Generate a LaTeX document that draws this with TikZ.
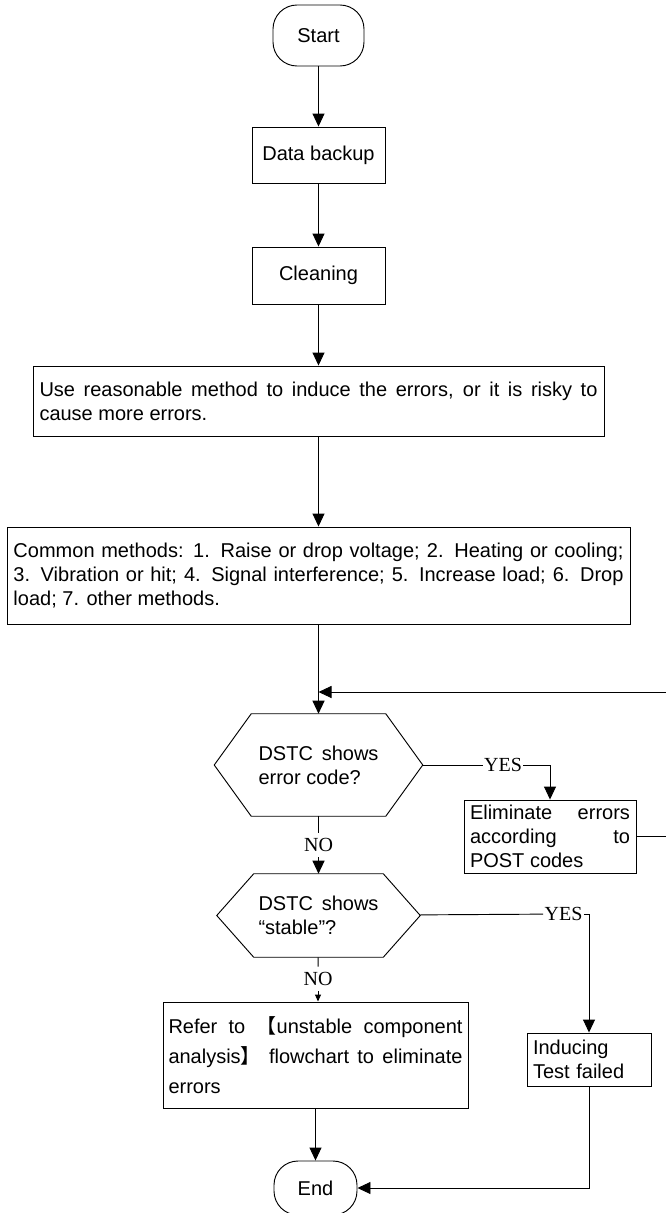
\documentclass[tikz,border=0pt]{standalone}
\usepackage{fontspec}
\setmainfont{Liberation Sans}
\newfontfamily\answerfont{Liberation Serif}
\newfontfamily\cjk{Noto Sans CJK SC}
\usetikzlibrary{arrows.meta}
\tolerance=9999
\tikzset{
    flowline/.style={line width=0.7pt},
    flowarrow/.style={flowline, -{Triangle[length=9.75pt, width=9pt]}},
    smallarrow/.style={flowline, -{Triangle[length=5.25pt, width=4.5pt]}},
    termbox/.style={draw, flowline, rounded corners=18pt, inner sep=0pt,
        font=\fontsize{15}{18}\selectfont},
    procbox/.style={draw, flowline, inner ysep=0pt, align=justify,
        font=\fontsize{15}{18}\selectfont},
    decbox/.style={inner sep=0pt, text width=90pt, align=justify,
        font=\fontsize{15}{18}\selectfont}, % hexagon is drawn from its anchors
    answer/.style={inner xsep=1pt, inner ysep=4pt, fill=white,
        font=\answerfont\fontsize{15}{18}\selectfont},
}
\begin{document}
\begin{tikzpicture}[x=0.75pt, y=-0.75pt]
    \useasboundingbox (0, 0) rectangle (666, 1213);
    \clip (0, 0) rectangle (666, 1213);
    \node[termbox, minimum width=68.25pt, minimum height=45.75pt] (start)
        at (318.5, 35.5) {Start};
    \node[procbox, align=center, minimum width=99.75pt, minimum height=42pt]
        (backup) at (318.5, 155) {Data backup};
    \node[procbox, align=center, minimum width=99.75pt, minimum height=42.75pt]
        (cleaning) at (318.5, 275.5) {Cleaning};
    \node[procbox, text width=418.5pt, inner xsep=4.875pt, minimum height=52.5pt]
        (induce) at (318.5, 401) {Use reasonable method to induce the errors,
        or it is risky to\linebreak cause more errors.};
    \node[procbox, text width=457.5pt, inner xsep=4.875pt, minimum height=72.75pt]
        (methods) at (318.5, 575.5) {Common methods: 1. Raise or drop voltage;
        2. Heating or cooling;\linebreak 3. Vibration or hit; 4. Signal
        interference; 5. Increase load; 6. Drop\linebreak load; 7. other methods.};
    \coordinate (join) at (318.5, 692);
    \node[decbox, minimum width=156pt, minimum height=76.5pt] (errcode)
        at (318.5, 765) {DSTC shows\linebreak error code?};
    \node[answer] (yesa) at (503, 765) {YES};
    \node[procbox, text width=120pt, inner xsep=4.5pt, minimum height=54.75pt]
        (post) at (550, 836.5) {Eliminate errors\linebreak according
        to\linebreak POST codes};
    \node[answer] (noa) at (318.5, 845) {NO};
    \node[decbox, minimum width=152.25pt, minimum height=62.25pt] (stable)
        at (318.5, 915.5) {DSTC shows\linebreak “stable”?};
    \node[answer] (yesb) at (563.5, 914) {YES};
    \node[answer] (nob) at (318, 979) {NO};
    \node[procbox, text width=220.5pt, inner xsep=4.125pt, minimum height=79.5pt,
        font=\fontsize{15}{22.5}\selectfont] (unstable) at (315.5, 1055)
        {Refer to {\cjk 【}unstable component\linebreak analysis{\cjk 】}
        flowchart to eliminate\linebreak errors};
    \node[procbox, align=left, text width=84pt, inner xsep=4.5pt,
        minimum height=39.75pt] (failed) at (589, 1059.5)
        {Inducing\\Test failed};
    \node[termbox, minimum width=62.25pt, minimum height=40.5pt] (finish)
        at (315.5, 1188) {End};

    \foreach \hex in {errcode, stable}
        \draw[flowline] (\hex.west) -- ([xshift=27.75pt]\hex.north west)
            -- ([xshift=-27.75pt]\hex.north east) -- (\hex.east)
            -- ([xshift=-27.75pt]\hex.south east)
            -- ([xshift=27.75pt]\hex.south west) -- cycle;

    \draw[flowarrow] (start) -- (backup);
    \draw[flowarrow] (backup) -- (cleaning);
    \draw[flowarrow] (cleaning) -- (induce);
    \draw[flowarrow] (induce) -- (methods);
    \draw[flowarrow] (methods) -- (errcode);
    \draw[flowarrow] (post.east) -- (680, 836.5) |- (join);
    \draw[flowline] (errcode) -- (yesa);
    \draw[flowarrow] (yesa) -| (post);
    \draw[flowline] (errcode) -- (noa);
    \draw[flowarrow] (noa) -- (stable);
    \draw[flowline] (stable) -- (yesb);
    \draw[flowarrow] (yesb) -| (failed);
    \draw[flowline] (stable) -- (nob);
    \draw[smallarrow] (nob) -- (nob |- unstable.north);
    \draw[flowarrow] (unstable) -- (finish);
    \draw[flowarrow] (failed) |- (finish);
\end{tikzpicture}
\end{document}
